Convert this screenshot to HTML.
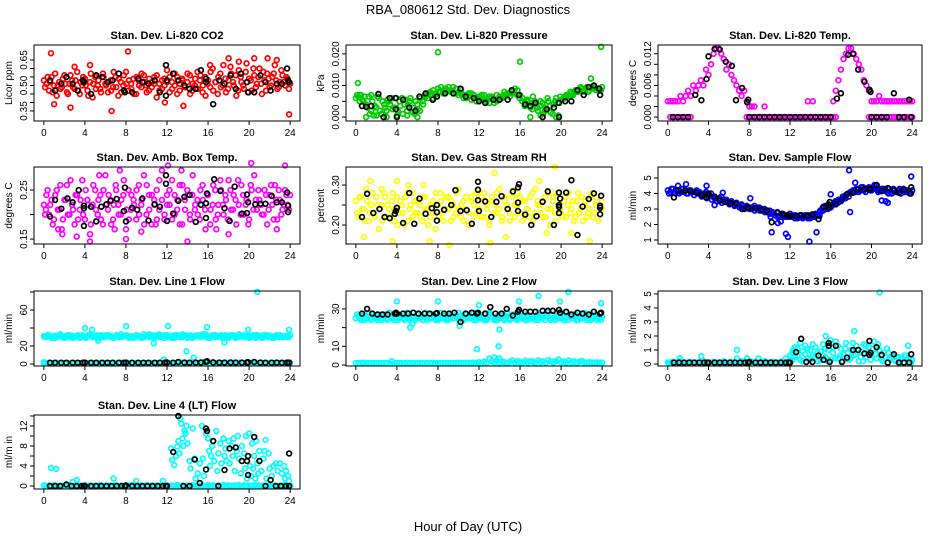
<!DOCTYPE html>
<html><head><meta charset="utf-8"><style>
html,body{margin:0;padding:0;background:#fff;}
svg{display:block;font-family:"Liberation Sans",sans-serif;}
</style></head><body>
<svg id="c" width="936" height="540" viewBox="0 0 936 540">
<text x="468" y="14" text-anchor="middle" font-size="13">RBA_080612  Std. Dev. Diagnostics</text>
<text x="468" y="531" text-anchor="middle" font-size="13">Hour of Day (UTC)</text>
</svg>
<script>
const xTicks=[0,4,8,12,16,20,24];
// ---- CO2 ----
const co2Red=[0.53,0.51,0.47,0.55,0.50,0.44,0.52,0.49,0.56,0.46,0.51,0.53,0.48,0.58,0.45,0.50,0.54,0.47,0.52,0.43,0.55,0.50,0.48,0.57,0.51,0.46,0.53,0.49,0.55,0.44,0.52,0.50,0.58,0.47,0.51,0.54,0.45,0.53,0.49,0.56,0.50,0.47,0.52,0.55,0.43,0.51,0.48,0.54,0.59,0.46,0.52,0.50,0.55,0.47,0.53,0.49,0.57,0.45,0.51,0.54,0.48,0.56,0.50,0.44,0.53,0.58,0.47,0.52,0.55,0.49,0.62,0.46,0.53,0.57,0.50,0.44,0.59,0.52,0.48,0.63,0.54,0.47,0.56,0.51,0.60,0.45,0.53,0.57,0.49,0.55,0.62,0.48,0.52,0.56,0.50,0.54,0.51];
const co2Red2=[0.49,0.55,0.52,0.46,0.57,0.50,0.48,0.54,0.51,0.45,0.56,0.49,0.53,0.47,0.52,0.55,0.50,0.44,0.57,0.51,0.48,0.53,0.46,0.55,0.50,0.52,0.47,0.58,0.49,0.54,0.46,0.56,0.51,0.53,0.48,0.45,0.55,0.50,0.57,0.52,0.46,0.54,0.49,0.51,0.56,0.47,0.53,0.50,0.52,0.55,0.48,0.57,0.45,0.51,0.54,0.49,0.52,0.56,0.47,0.50,0.58,0.53,0.46,0.55,0.51,0.49,0.60,0.52,0.45,0.57,0.50,0.54,0.48,0.61,0.52,0.56,0.47,0.55,0.50,0.58,0.46,0.53,0.60,0.49,0.55,0.51,0.58,0.47,0.54,0.50,0.57,0.53,0.49,0.59,0.52,0.55,0.48];
const co2OutX=[0.7,8.2,1.0,2.6,6.6,13.6,23.9,18.0,20.5,21.8,22.7,19.0,16.2,11.8,4.5,3.0];
const co2OutY=[0.69,0.70,0.39,0.37,0.35,0.38,0.33,0.66,0.66,0.66,0.65,0.64,0.62,0.40,0.62,0.61];
const co2BlkX=[0.6,1.1,1.7,2.2,2.8,3.3,3.8,3.9,4.6,5.1,5.7,6.2,6.7,7.3,7.8,7.9,8.6,9.2,9.6,10.2,10.8,11.3,11.9,11.9,12.0,12.6,13.1,13.7,14.2,14.8,15.3,15.8,15.8,16.5,17.1,17.6,18.2,18.7,19.2,19.8,19.9,20.5,21.1,21.6,22.1,22.7,23.2,23.7,23.8,23.9];
const co2BlkY=[0.53,0.47,0.51,0.55,0.51,0.47,0.53,0.52,0.45,0.56,0.55,0.52,0.53,0.57,0.47,0.46,0.46,0.54,0.52,0.51,0.53,0.46,0.62,0.44,0.53,0.57,0.53,0.50,0.48,0.48,0.59,0.54,0.52,0.39,0.53,0.51,0.56,0.48,0.57,0.52,0.46,0.46,0.56,0.52,0.47,0.51,0.51,0.60,0.53,0.52];
// ---- Pressure ----
const presGreen=[.006,.0065,.007,.005,.004,.0065,.002,.0005,.003,.006,.001,.004,.002,.005,.006,.003,.0005,.005,.006,.004,.002,.005,.003,.001,.004,.002,.005,.007,.006,.008,.006,.007,.009,.008,.0075,.009,.0085,.008,.0095,.0075,.007,.0085,.006,.007,.0065,.0075,.006,.005,.0065,.007,.0055,.006,.0045,.0065,.0055,.005,.0065,.006,.007,.0075,.0065,.008,.009,.0085,.007,.006,.0045,.005,.003,.0065,.004,.002,.005,.001,.003,.005,.0015,.004,.006,.0005,.0055,.006,.007,.0065,.0075,.0075,.008,.0085,.009,.008,.0095,.0085,.009,.0095,.009,.0085,.0095];
const presGreen2=[.007,.005,.0055,.0065,.003,.001,.005,.0035,.0065,.002,.005,.003,.0055,.004,.0025,.006,.002,.0035,.001,.0055,.004,.006,.0015,.005,.0025,.006,.004,.0065,.0075,.007,.0085,.0075,.008,.0095,.0085,.008,.0095,.0085,.0075,.009,.008,.0075,.007,.006,.0075,.0055,.007,.006,.0055,.006,.007,.005,.0065,.006,.0045,.007,.0055,.0065,.008,.007,.0075,.0085,.0075,.007,.006,.005,.0035,.0055,.0045,.0025,.005,.003,.0035,.0045,.002,.006,.0035,.001,.005,.0045,.0065,.0055,.0065,.007,.008,.007,.0085,.008,.0095,.0085,.009,.008,.0095,.009,.0085,.009,.0085];
const presOutX=[0.2,8.0,16.0,23.9,22.9,17.0,1.0,2.0,3.0,5.0,6.0,18.0,19.5,0.4,1.5];
const presOutY=[.0108,.0205,.0175,.0222,.0122,0,0,.0005,0,.0005,0,.0005,0,.007,.007];
const presBlkX=[0.6,1.0,1.5,2.2,2.7,3.3,3.9,3.9,4.0,4.6,5.2,5.8,6.2,6.8,7.5,7.9,8.7,9.5,10.2,10.7,11.5,12.0,12.6,13.4,14.0,14.8,15.2,15.9,16.5,17.0,17.5,18.2,18.6,19.3,19.8,19.8,20.4,21.0,21.6,22.2,22.7,23.2,23.7,23.8];
const presBlkY=[.0035,.0033,.0035,.0073,0,.006,.006,.0025,0,.0055,.003,.002,.0065,.0075,.0055,.0065,.0075,.0075,.009,.0065,.006,.005,.0045,.0055,.0055,.0055,.0085,.007,.004,.0035,.0045,0,.0025,.003,0,.0045,.005,.005,.0085,.007,.0095,.01,.009,.007];
// ---- Li-820 Temp ----
const tempMagA=[.003,.003,.003,.003,.003,.004,.003,.004,.005,.004,.006,.005,.006,.007,.006,.009,.008,.010,.012,.013,.013,.012,.011,.009,.010,.008,.007,.006,.005,.004,.005,.003,.002,.002,.002,0,0,0,.002,0,0,0,0,0,0,0,0,0,0,0,0,0,0,0,0,.003,0,.003,0,0,0,0,0,0,0,.003,.005,.007,.009,.011,.012,.013,.013,.012,.011,.010,.009,.007,.006,.005,.003,.003,.003,.004,.003,.003,.003,.003,.003,.003,.003,.003,.003,.003,.003,.003,.003];
const tempMagB=[null,0,0,0,0,0,0,0,0,0,null,null,null,null,null,null,null,null,null,null,null,null,null,null,null,null,null,null,null,null,null,0,0,0,0,0,0,0,0,0,0,0,0,0,0,0,0,0,0,0,0,0,0,0,0,0,0,0,0,0,0,0,0,0,0,0,0,null,null,null,null,null,null,null,null,null,null,null,null,0,0,0,0,0,0,0,0,0,0,0,0,0,0,0,0,0,0];
const tempBlkX=[0.5,1.0,1.5,2.0,2.7,3.3,3.8,4.0,4.6,5.1,5.7,6.3,6.7,7.3,7.8,7.9,8.0,8.5,9.0,9.5,10.0,10.5,11.0,11.5,12.0,12.5,13.0,13.5,14.0,14.5,15.0,15.5,16.0,16.6,17.0,17.7,18.2,18.7,19.3,19.8,19.9,20.0,20.5,21.0,21.5,22.2,22.7,23.2,23.7,23.9];
const tempBlkY=[0,0,0,0,.0042,.0032,.0072,.0115,.0129,.0128,.0105,.0097,.0032,.0055,.0028,.0033,0,0,0,0,0,0,0,0,0,0,0,0,0,0,0,0,0,.0035,.0045,.0118,.012,.009,.0067,.0052,.0048,0,0,0,0,.0045,0,0,.0033,0];
// ---- Amb box ----
const boxMag=[.22,.24,.20,.23,.19,.25,.21,.17,.23,.26,.20,.22,.18,.24,.21,.27,.19,.23,.16,.22,.25,.20,.24,.18,.28,.21,.23,.19,.26,.22,.20,.24,.17,.25,.21,.23,.19,.26,.22,.28,.20,.24,.18,.23,.25,.21,.29,.19,.24,.22,.27,.20,.23,.18,.26,.21,.24,.19,.28,.22,.20,.25,.23,.17,.24,.21,.26,.19,.22,.25,.20,.23,.27,.21,.24,.18,.22,.26,.20,.23,.19,.25,.28,.21,.23,.20,.25,.18,.24,.22,.26,.19,.23,.21,.25,.22,.24];
const boxMag2=[.20,.25,.22,.18,.24,.21,.26,.19,.23,.20,.27,.21,.24,.19,.23,.20,.25,.22,.18,.26,.21,.23,.19,.25,.22,.24,.18,.22,.25,.20,.23,.27,.21,.19,.24,.22,.25,.20,.23,.18,.26,.21,.24,.22,.19,.27,.23,.20,.22,.25,.19,.24,.21,.26,.18,.23,.25,.20,.24,.21,.23,.19,.26,.21,.24,.18,.22,.25,.20,.27,.22,.24,.19,.25,.21,.23,.27,.20,.24,.22,.18,.26,.21,.23,.25,.22,.20,.24,.21,.26,.19,.23,.25,.20,.22,.24,.21];
const boxOutX=[0.2,4.5,3.2,14,20.2,23.5,12.1,1.8,9.5,18,8,22.7,6.9,13.4,7.4,1.4,5.4,16.8,10.9];
const boxOutY=[.21,.145,.155,.145,.305,.30,.30,.16,.165,.16,.15,.17,.17,.29,.29,.17,.28,.17,.18];
const boxBlkX=[0.6,1.1,1.7,2.3,2.8,3.4,3.9,3.9,3.9,4.6,5.1,5.6,6.1,6.5,7.1,7.8,7.9,8.0,8.6,9.1,9.6,10.2,10.8,11.3,11.9,11.9,12.0,12.6,13.1,13.7,14.2,14.8,15.3,15.8,15.8,15.9,16.6,17.2,17.6,18.1,18.6,19.3,19.8,19.8,19.9,20.6,21.1,21.6,22.2,22.7,23.2,23.7,23.8,23.8];
const boxBlkY=[.196,.23,.212,.233,.225,.25,.213,.218,.177,.216,.186,.216,.221,.228,.232,.207,.255,.186,.214,.21,.233,.188,.221,.216,.263,.28,.187,.202,.228,.236,.24,.185,.22,.193,.223,.243,.272,.248,.213,.187,.257,.202,.203,.241,.225,.221,.222,.222,.238,.225,.225,.245,.218,.205];
// ---- Gas RH ----
const rhYel=[.26,.22,.27,.24,.29,.21,.25,.23,.27,.19,.25,.28,.22,.24,.26,.21,.27,.23,.25,.20,.28,.24,.22,.26,.23,.25,.21,.27,.24,.22,.26,.19,.25,.28,.23,.24,.27,.21,.25,.23,.29,.22,.26,.24,.20,.27,.25,.23,.26,.22,.28,.24,.21,.27,.25,.23,.29,.22,.26,.24,.21,.27,.25,.28,.23,.26,.22,.24,.27,.21,.29,.25,.23,.26,.22,.28,.24,.27,.21,.25,.23,.26,.22,.28,.24,.21,.26,.23,.27,.25,.22,.24,.28,.23,.26,.25,.24];
const rhYel2=[.23,.27,.24,.21,.26,.23,.28,.22,.25,.24,.21,.27,.25,.22,.28,.24,.20,.26,.23,.27,.21,.25,.28,.23,.26,.22,.27,.24,.20,.25,.23,.28,.22,.26,.21,.27,.24,.26,.22,.28,.24,.25,.21,.27,.23,.26,.22,.28,.24,.27,.22,.25,.20,.26,.23,.28,.24,.21,.27,.25,.23,.28,.22,.25,.27,.21,.26,.24,.22,.28,.23,.26,.25,.22,.27,.24,.20,.26,.23,.28,.24,.22,.27,.25,.23,.26,.22,.28,.24,.21,.26,.23,.27,.22,.25,.21,.26];
const rhOutX=[1.4,0.8,4.0,3.6,7.2,9.1,13.5,13.1,19.4,17.9,22.8,14.6,18.6,5.1,11.8,6.6,21.0,2.5];
const rhOutY=[.31,.17,.31,.16,.16,.15,.33,.155,.345,.31,.16,.17,.18,.30,.28,.30,.18,.29];
const rhBlkX=[0.6,1.1,1.7,2.3,2.8,3.3,3.8,3.9,4.0,4.6,5.2,5.7,6.2,6.8,7.4,7.9,7.9,7.9,8.6,9.3,9.7,10.2,10.8,11.3,11.9,11.9,11.9,12.0,12.6,13.2,13.7,14.2,14.8,15.3,15.8,15.8,15.8,15.9,16.5,17.1,17.6,18.2,18.7,19.3,19.8,19.8,19.8,19.9,19.8,20.5,21.0,21.6,22.1,22.7,23.2,23.8,23.8,23.8,23.9];
const rhBlkY=[.22,.278,.23,.24,.22,.217,.228,.235,.243,.205,.28,.203,.266,.228,.242,.232,.25,.211,.238,.25,.287,.235,.237,.203,.262,.288,.308,.235,.259,.22,.258,.272,.24,.284,.235,.256,.294,.302,.226,.2,.222,.258,.284,.2,.23,.245,.25,.266,.281,.281,.312,.175,.246,.265,.279,.227,.243,.248,.273];
// ---- Sample flow ----
const sfBlue=[4.2,4.1,4.3,4.0,4.2,4.1,4.3,4.2,4.0,4.2,4.1,4.1,4.0,4.0,3.9,4.1,3.8,4.0,3.8,3.7,3.6,3.8,3.5,3.6,3.4,3.5,3.3,3.4,3.2,3.3,3.1,3.2,3.1,3.0,3.2,3.0,3.1,2.9,3.0,2.8,2.9,2.7,2.6,2.8,2.5,2.7,2.6,2.5,2.7,2.5,2.6,2.4,2.6,2.5,2.6,2.4,2.6,2.5,2.7,2.6,2.8,2.9,3.0,3.2,3.1,3.3,3.4,3.6,3.5,3.7,3.9,3.8,4.1,4.2,4.3,4.1,4.4,4.2,4.3,4.4,4.2,4.3,4.5,4.2,4.3,4.2,4.1,4.3,4.0,4.2,4.1,4.3,4.2,4.1,4.2,4.0,4.2];
const sfBlue2=[4.0,4.3,4.1,4.2,4.0,4.3,4.1,4.0,4.2,4.1,3.9,4.2,4.1,3.8,4.0,3.7,3.9,3.6,3.7,3.5,3.7,3.4,3.6,3.5,3.3,3.4,3.2,3.3,3.1,3.2,3.0,3.1,3.0,3.1,2.9,3.1,2.9,3.0,2.8,2.9,2.7,2.8,2.6,2.5,2.6,2.7,2.5,2.6,2.5,2.6,2.4,2.5,2.6,2.4,2.5,2.6,2.4,2.6,2.5,2.7,2.9,3.1,3.2,3.0,3.2,3.3,3.5,3.4,3.6,3.8,3.7,4.0,4.1,4.2,4.1,4.3,4.2,4.4,4.1,4.3,4.2,4.4,4.3,4.1,4.2,4.3,4.2,4.0,4.1,4.3,4.1,4.2,4.0,4.3,4.1,4.1,4.0];
const sfOutX=[1,1.8,3.8,5.4,4.6,8.1,10.2,10.8,11.1,11.6,11.8,13.9,14.6,14.9,16,17.8,17.9,18.4,20.3,21.0,21.4,21.6,23.9,10.1];
const sfOutY=[4.5,4.6,4.5,4.05,3.25,3.7,1.5,2.1,2.2,1.4,1.2,0.9,1.5,2.55,3.95,5.5,2.8,4.7,4.55,3.55,3.5,3.4,5.1,2.5];
const sfBlkX=[0.6,1.1,1.7,2.2,2.8,3.3,3.8,3.9,4.0,4.6,5.1,5.7,6.2,6.7,7.3,7.9,7.9,8.6,9.2,9.7,10.2,10.8,11.3,11.8,12,12.6,13.1,13.7,14.2,14.8,15.3,15.8,15.8,15.9,16.5,17.1,17.6,18.2,18.7,19.3,19.8,19.9,20.5,21,21.6,22.2,22.7,23.2,23.8,23.9];
const sfBlkY=[3.75,4.2,4.2,4.15,4.05,3.9,3.75,3.95,4.0,3.8,3.55,3.45,3.35,3.35,3.0,3.05,3.1,3.05,2.95,2.9,2.15,2.75,2.65,2.6,2.55,2.55,2.6,2.55,2.65,2.35,3.15,3.1,3.3,3.45,3.3,3.6,3.95,4.05,4.25,4.3,4.25,4.3,4.55,4.15,4.35,4.2,4.05,4.25,4.0,4.4];
// ---- Line 1 ----
const l1High=[31,30,32,29,31,30,32,31,29,30,32,31,30,31,29,32,30,31,33,30,31,29,32,31,30,32,31,29,31,30,33,31,32,30,31,29,32,31,30,33,31,30,32,29,31,33,30,32,31,30,29,32,31,30,33,31,29,32,30,31,32,30,31,33,29,31,32,30,31,32,30,31,29,32,31,30,33,31,30,32,29,31,30,32,31,29,30,32,31,29,30,31,32,30,31,30,32];
const l1High2=[30,32,31,30,29,31,33,30,31,32,30,29,31,32,30,31,29,32,31,30,32,29,31,30,32,31,30,29,32,31,30,31,32,29,31,30,32,31,29,30,31,33,30,31,32,30,31,29,32,30,31,29,32,31,30,32,30,31,29,31,32,30,33,31,30,29,31,32,30,31,29,32,30,31,32,29,30,31,32,30,31,30,32,29,31,30,32,31,30,31,29,32,30,31,30,31,30];
const l1Low=[1,1,1.2,1,1,1.3,1,1.1,1,1,1.2,1,1,1.1,1,1,1.3,1,1,1.2,1,1,1.1,1,1,1.2,1,1.1,1,1,1.3,1,1,1.1,1,1,1.2,1,1,1.1,1,1,1.2,1,1,1.3,1,1,1.2,1,1.5,1,1.4,1.8,1,1.6,1.2,1,1.7,1.3,1,1.5,1.9,1.2,1,1.6,1.3,1,1.4,1.2,1,1.5,1.2,1,1.3,1,1.4,1.1,1,1.6,1.2,1,1.8,1.3,1,1.2,1.1,1,1.3,1,1.2,1,1.1,1,1.2,1,1];
const l1OutX=[4,4.7,5.3,8,10.7,12.1,13.9,14.6,15.9,17.6,19.9,20.8,23.9,11.7,0];
const l1OutY=[40,38,26,42,23,42,14,7,41,24,38,80,38,5,2];
const l1BlkX=[0.6,1.1,1.7,2.2,2.8,3.3,3.8,4.0,4.6,5.1,5.7,6.2,6.7,7.3,7.8,8.0,8.6,9.2,9.7,10.2,10.8,11.3,11.8,12.0,12.6,13.1,13.7,14.2,14.8,15.3,15.8,15.9,16.5,17.1,17.6,18.2,18.7,19.3,19.8,19.9,20.5,21.1,21.6,22.2,22.7,23.2,23.7,23.9];
const l1BlkY=[1.5,1.5,1.5,1.5,1.5,1.5,1.5,1.6,1.5,1.5,1.5,1.5,1.5,1.5,1.5,1.6,1.5,1.5,1.5,1.5,1.5,1.5,1.6,1.7,1.5,2.2,1.6,1.5,1.6,1.7,2.5,3,1.8,1.6,1.6,1.7,1.6,1.6,1.8,2,2.2,1.6,1.5,1.5,1.6,1.5,1.6,1.6];
// ---- Line 2 ----
const l2High=[25,26,24,27,25,28,24,26,25,27,24,26,25,28,26,24,27,25,26,24,28,25,26,24,27,25,26,28,24,25,27,26,24,28,25,26,24,27,25,26,28,25,24,27,26,25,28,24,26,25,27,24,28,26,25,24,27,26,25,28,24,26,27,25,28,26,24,27,25,26,28,24,25,27,26,28,24,25,26,27,25,24,28,26,25,27,24,26,25,28,24,26,25,27,24,25,26];
const l2High2=[27,25,26,24,26,25,27,25,24,26,25,27,24,26,25,27,24,26,25,27,25,24,26,25,27,26,24,25,27,25,26,24,25,26,27,24,25,26,25,27,24,26,25,27,25,26,24,27,25,26,24,25,27,26,24,26,25,27,24,26,25,27,25,24,26,25,27,24,26,25,24,27,26,25,24,26,25,27,24,25,26,27,25,24,26,25,27,24,26,25,27,25,24,26,27,25,24];
const l2Low=[1,1,1,1.2,1,1,1,1,1,1,1,1,1,1,2,1,1,1,1,1,1.2,1,1,1,1,1,1,1,1,1,1.2,1,1,1,1,1,1,1,1,1,1.2,1,1,1,1,1,1.3,1,1.5,1,1.8,1.2,3.5,2,1.4,2.5,1.2,1.8,1.4,1,1.6,2.4,1.2,2,1.5,1.3,2.2,1.4,2,1.6,1.3,2.4,1.5,2,1.3,2.6,1.8,1.4,2.2,3,1.5,1.8,1.2,2.4,1.4,2,1.3,1.6,2.2,1.4,1.2,1.5,1.3,1.2,1.4,1.2,1.3];
const l2OutX=[4,8,12,13,14,13.9,11.8,5.3,10.1,15.9,17.8,19.9,20.7,23.9,13.5,14,5.5];
const l2OutY=[34,34,32,28,19,10,8.5,20,21,34,37,34,39,33,4,3.5,22];
const l2BlkX=[0.6,1.1,1.6,2.1,2.6,3.1,3.8,3.9,4.0,4.6,5.1,5.6,6.1,6.7,7.2,7.8,7.9,8.6,9.1,9.6,10.2,10.7,11.3,11.8,11.9,12.6,13.1,13.6,14.2,14.7,15.3,15.8,15.9,16.5,17.0,17.5,18.2,18.7,19.2,19.8,19.9,20.5,21.0,21.6,22.1,22.7,23.2,23.8,23.9];
const l2BlkY=[27.5,30,27.5,27,27,27,27.5,28,27.5,27.5,27.5,28,27.5,27.5,27.5,27.5,27.8,27.5,27.5,28,23,27.5,28,27.5,28,27.5,31,27.5,27.5,30,26.5,28.5,29.5,28.5,28.5,28.5,29,29,29,29.5,28,28.5,27,28,27.5,27,28.5,27.5,28];
// ---- Line 3 ----
const l3Cyan=[0.1,0.1,0.15,0.1,0.1,0.2,0.1,0.1,0.1,0.15,0.1,0.1,0.1,0.1,0.2,0.1,0.1,0.1,0.15,0.1,0.1,0.1,0.2,0.1,0.1,0.15,0.1,0.1,0.1,0.2,0.1,0.1,0.1,0.15,0.1,0.1,0.1,0.1,0.2,0.1,0.1,0.15,0.1,0.1,0.1,0.2,0.1,0.1,0.3,0.8,0.5,1.1,0.3,0.9,1.3,0.4,1.0,0.6,1.2,0.2,0.9,1.4,0.5,1.0,0.3,1.2,1.6,0.4,1.1,0.7,1.5,0.3,1.0,0.6,1.3,0.2,0.9,1.4,0.5,1.2,0.7,1.6,0.4,1.0,0.3,0.8,1.1,0.4,0.6,0.3,0.5,0.2,0.4,0.6,0.3,0.2,0.3];
const l3Cloud=[0.1,0.1,0.1,0.1,0.1,0.1,0.1,0.1,0.1,0.1,0.1,0.1,0.1,0.1,0.1,0.1,0.1,0.1,0.1,0.1,0.1,0.1,0.1,0.1,0.1,0.1,0.1,0.1,0.1,0.1,0.1,0.1,0.1,0.1,0.1,0.1,0.1,0.1,0.1,0.1,0.1,0.1,0.1,0.1,0.1,0.1,0.1,0.1,0.6,0.3,1.2,0.6,1.5,0.2,0.7,1.1,0.3,1.4,0.5,0.8,0.3,0.6,1.1,0.2,1.7,0.8,0.4,1.3,0.6,0.2,1.1,0.8,0.4,1.5,0.7,1.0,0.5,0.2,1.3,0.8,0.3,1.1,0.7,1.4,0.6,0.2,0.5,0.8,0.3,0.6,0.2,0.5,0.3,0.1,0.6,0.4,0.1];
const l3OutX=[1.2,3.3,6.8,6.8,7.8,8.9,11.6,15.5,18.3,20.8,23.6,12.3];
const l3OutY=[0.4,0.55,1.0,0.4,0.4,0.4,0.4,2.0,2.35,5.1,1.3,1.0];
const l3BlkX=[0.6,1.1,1.6,2.1,2.6,3.1,3.6,3.9,4.0,4.6,5.1,5.6,6.1,6.6,7.1,7.6,7.9,8.0,8.6,9.1,9.6,10.1,10.6,11.1,11.6,11.9,12.0,12.6,13.1,13.6,14.2,14.8,15.3,15.8,15.8,15.9,16.5,17.1,17.6,18.2,18.7,19.3,19.8,19.9,19.8,20.5,21,21.6,22.2,22.7,23.2,23.7,23.9];
const l3BlkY=[0.1,0.1,0.1,0.1,0.1,0.1,0.1,0.1,0.1,0.1,0.1,0.1,0.1,0.1,0.1,0.1,0.1,0.15,0.1,0.1,0.1,0.1,0.1,0.1,0.1,0.1,0.1,0.85,1.8,0.15,0.15,0.6,0.3,1.3,1.5,0.15,1.3,0.15,0.45,1.0,1.0,0.75,0.65,0.8,1.65,1.2,0.65,0.1,0.7,0.1,0.1,0.1,0.7];
// ---- Line 4 ----
const l4Base=[0.1,0,0.1,0,0.2,0,0.1,0,0.1,0,0.2,0,0.1,0,0.1,0,0.2,0,0.1,0,0.1,0,0.2,0,0.1,0,0.1,0,0.2,0,0.1,0,0.1,0,0.2,0,0.1,0,0.1,0,0.2,0,0.1,0,0.1,0,0.2,0,0.1,0,0.1,0,0.2,0,0.1,0,0.1,0,0.2,0,0.1,0,0.1,0,0.2,0,0.1,0,0.1,0,0.2,0,0.1,0,0.1,0,0.2,0,0.1,0,0.1,0,0.2,0,0.1,0,0.1,0,0.2,0,0.1,0,0.1,0,0.2,0,0.1];
const l4CloudX=[12.4,12.5,12.7,12.9,13.0,13.1,13.2,13.3,13.4,13.5,13.6,13.7,13.8,13.9,14.0,14.2,14.3,14.5,14.7,14.8,15.0,15.2,15.4,15.5,15.6,15.8,16.0,16.1,16.2,16.3,16.4,16.5,16.6,16.8,16.9,17.0,17.2,17.3,17.5,17.6,17.7,17.8,18.0,18.1,18.3,18.4,18.5,18.6,18.8,18.9,19.0,19.2,19.3,19.5,19.6,19.7,19.8,20.0,20.1,20.2,20.3,20.4,20.5,20.6,20.7,20.8,20.9,21.0,21.2,21.4,21.5,21.6,21.7,21.9,22.0,22.2,22.4,22.6,22.8,23.0,23.2,23.4,23.5,23.6,23.8,23.9,0.7,1.2,3.2,6.8,9,11.6,2.8];
const l4CloudY=[7.5,5.2,4.2,6,7.9,9,6.5,13.5,12.5,9.5,8,11,10.5,12,8.5,5,3.5,11.5,5.5,1.5,2.5,4.5,12,5.5,2,10.5,9.5,7,4,6,8,9,5,11,3,6.5,8.5,4.5,9.5,6,7.5,5,9,4.5,8,6,9.5,3,7,10,5.5,2.5,8,6.5,3.5,10,1.5,10.5,4,2,8.5,3.5,6,1.5,9,4.5,2.5,7,3,5.5,7,9.2,1.5,6.5,3.5,2,4,4.5,3,4.5,2.5,4,1.5,3,2,1,3.6,3.4,1.2,1.5,1,1,0.8];
const l4BlkX=[0.6,1.1,1.6,2.2,2.7,3.2,3.7,3.9,4.0,4.6,5.1,5.6,6.1,6.6,7.1,7.6,7.9,8.0,8.6,9.1,9.6,10.1,10.6,11.1,11.6,11.9,12.0,12.6,13.1,13.6,14.2,14.7,15.2,15.8,15.8,15.9,16.5,17.0,17.6,18.1,18.7,19.3,19.8,19.9,19.9,20.5,21,21.6,22.1,22.6,23.1,23.6,23.9,23.9];
const l4BlkY=[0,0,0,0.3,0,0,0,0,0,0,0,0,0,0,0,0,0,0.1,0,0,0,0,0,0,0,0,0,6.8,14,0,0,5.3,0.6,3.3,11.5,11,9,0,3.2,7.5,7.7,5,5,6,2.2,9.8,5,0,1.2,0,0,0,6.5,0];

const SVGNS="http://www.w3.org/2000/svg";
const svg=document.getElementById('c');
function mk(tag,attrs,parent){const e=document.createElementNS(SVGNS,tag);for(const k in attrs)e.setAttribute(k,attrs[k]);(parent||svg).appendChild(e);return e;}
const colL=[34,346,658], colW=[266,266,264];
const rowT=[45,167,291,415], rowB=[121,244,366,489];
const idx=(arr)=>arr.map((_,i)=>i*24/(arr.length-1));
const idxOff=(arr)=>arr.map((_,i)=>0.12+i*23.76/(arr.length-1));

const panels=[
 {key:'co2',title:'Stan. Dev. Li-820 CO2',ylab:'Licor ppm',c:0,r:0,yMin:0.291,yMax:0.738,ticks:[.35,.40,.45,.50,.55,.60,.65],labels:['0.35','0.50','0.65'],labelAt:[.35,.50,.65],
  series:[{col:'#ff0000',x:idx(co2Red),y:co2Red},{col:'#ff0000',x:idxOff(co2Red2),y:co2Red2},{col:'#ff0000',x:co2OutX,y:co2OutY},{col:'#000',x:co2BlkX,y:co2BlkY}]},
 {key:'pressure',title:'Stan. Dev. Li-820 Pressure',ylab:'kPa',c:1,r:0,yMin:-.00123,yMax:.0228,ticks:[0,.005,.01,.015,.02],labels:['0.000','0.010','0.020'],labelAt:[0,.01,.02],
  series:[{col:'#00cc00',x:idx(presGreen),y:presGreen},{col:'#00cc00',x:idxOff(presGreen2),y:presGreen2},{col:'#00cc00',x:presOutX,y:presOutY},{col:'#000',x:presBlkX,y:presBlkY}]},
 {key:'li-temp',title:'Stan. Dev. Li-820 Temp.',ylab:'degrees C',c:2,r:0,yMin:-.00074,yMax:.01366,ticks:[0,.002,.004,.006,.008,.01,.012],labels:['0.000','0.006','0.012'],labelAt:[0,.006,.012],
  series:[{col:'#ff00ff',x:idx(tempMagA),y:tempMagA},{col:'#ff00ff',x:idx(tempMagB),y:tempMagB},{col:'#000',x:tempBlkX,y:tempBlkY}]},
 {key:'amb-box',title:'Stan. Dev. Amb. Box Temp.',ylab:'degrees C',c:0,r:1,yMin:.140,yMax:.297,ticks:[.15,.20,.25],labels:['0.15','0.25'],labelAt:[.15,.25],
  series:[{col:'#ff00ff',x:idx(boxMag),y:boxMag},{col:'#ff00ff',x:idxOff(boxMag2),y:boxMag2},{col:'#ff00ff',x:boxOutX,y:boxOutY},{col:'#000',x:boxBlkX,y:boxBlkY}]},
 {key:'gas-rh',title:'Stan. Dev. Gas Stream RH',ylab:'percent',c:1,r:1,yMin:.1525,yMax:.345,ticks:[.20,.25,.30],labels:['0.20','0.30'],labelAt:[.20,.30],
  series:[{col:'#ffff00',x:idx(rhYel),y:rhYel},{col:'#ffff00',x:idxOff(rhYel2),y:rhYel2},{col:'#ffff00',x:rhOutX,y:rhOutY},{col:'#000',x:rhBlkX,y:rhBlkY}]},
 {key:'sample-flow',title:'Stan. Dev. Sample Flow',ylab:'ml/min',c:2,r:1,yMin:.742,yMax:5.71,ticks:[1,2,3,4,5],labels:['1','2','3','4','5'],labelAt:[1,2,3,4,5],
  series:[{col:'#0000ff',x:idx(sfBlue),y:sfBlue},{col:'#0000ff',x:idxOff(sfBlue2),y:sfBlue2},{col:'#0000ff',x:sfOutX,y:sfOutY},{col:'#000',x:sfBlkX,y:sfBlkY}]},
 {key:'line1',title:'Stan. Dev. Line 1 Flow',ylab:'ml/min',c:0,r:2,yMin:-2.2,yMax:81.1,ticks:[0,20,40,60,80],labels:['0','20','60'],labelAt:[0,20,60],
  series:[{col:'#00ffff',x:idx(l1High),y:l1High},{col:'#00ffff',x:idxOff(l1High2),y:l1High2},{col:'#00ffff',x:idx(l1Low),y:l1Low},{col:'#00ffff',x:l1OutX,y:l1OutY},{col:'#000',x:l1BlkX,y:l1BlkY}]},
 {key:'line2',title:'Stan. Dev. Line 2 Flow',ylab:'ml/min',c:1,r:2,yMin:-.54,yMax:39.6,ticks:[0,10,20,30],labels:['0','10','30'],labelAt:[0,10,30],
  series:[{col:'#00ffff',x:idx(l2High),y:l2High},{col:'#00ffff',x:idxOff(l2High2),y:l2High2},{col:'#00ffff',x:idx(l2Low),y:l2Low},{col:'#00ffff',x:l2OutX,y:l2OutY},{col:'#000',x:l2BlkX,y:l2BlkY}]},
 {key:'line3',title:'Stan. Dev. Line 3 Flow',ylab:'ml/min',c:2,r:2,yMin:-.14,yMax:5.21,ticks:[0,1,2,3,4,5],labels:['0','1','2','3','4','5'],labelAt:[0,1,2,3,4,5],
  series:[{col:'#00ffff',x:idx(l3Cyan),y:l3Cyan},{col:'#00ffff',x:idxOff(l3Cloud),y:l3Cloud},{col:'#00ffff',x:l3OutX,y:l3OutY},{col:'#000',x:l3BlkX,y:l3BlkY}]},
 {key:'line4',title:'Stan. Dev. Line 4 (LT) Flow',ylab:'ml/m in',c:0,r:3,yMin:-.6,yMax:14.2,ticks:[0,2,4,6,8,10,12,14],labels:['0','4','8','12'],labelAt:[0,4,8,12],
  series:[{col:'#00ffff',x:idx(l4Base),y:l4Base},{col:'#00ffff',x:l4CloudX,y:l4CloudY},{col:'#000',x:l4BlkX,y:l4BlkY}]}
];

panels.forEach(p=>{
  const L=colL[p.c], W=colW[p.c], T=rowT[p.r], B=rowB[p.r];
  const xs=v=>L+W*(v+0.96)/25.92;
  const ys=v=>B-(B-T)*(v-p.yMin)/(p.yMax-p.yMin);
  const g=mk('g',{});
  
  
  const t=mk('text',{x:L+W/2,y:T-6,'text-anchor':'middle','font-size':'11','font-weight':'bold'},g);
  t.textContent=p.title;
  
  
  const marks=mk('g',{fill:'none','stroke-width':'1.7'},g);
  
  
  p.series.forEach(s=>{
    s.y.forEach((v,i)=>{
      if(v===null||v===undefined)return;
      const ci=mk('circle',{cx:xs(s.x[i]).toFixed(1),cy:ys(v).toFixed(1),r:'2.4',stroke:s.col},marks);
      
      
    });
  });
  const box=mk('rect',{x:L,y:T,width:W,height:B-T,fill:'none',stroke:'#000','stroke-width':'1'},g);
  
  
  const xa=mk('g',{},g);
  
  
  xTicks.forEach(v=>{
    const X=xs(v);
    mk('line',{x1:X,x2:X,y1:B,y2:B+4,stroke:'#000'},xa);
    const tl=mk('text',{x:X,y:B+15,'text-anchor':'middle','font-size':'10'},xa);
    tl.textContent=String(v);
  });
  const ya=mk('g',{},g);
  
  
  p.ticks.forEach(v=>{const Y=ys(v);mk('line',{x1:L-4,x2:L,y1:Y,y2:Y,stroke:'#000'},ya);});
  p.labelAt.forEach((v,i)=>{
    const Y=ys(v);
    const tl=mk('text',{x:L-7,y:Y,'text-anchor':'middle','font-size':'10',transform:`rotate(-90 ${L-7} ${Y})`},ya);
    tl.textContent=p.labels[i];
  });
  const yl=mk('text',{x:L-22,y:(T+B)/2,'text-anchor':'middle','font-size':'10',transform:`rotate(-90 ${L-22} ${(T+B)/2})`},g);
  yl.textContent=p.ylab;
  
  
});
</script>
</body></html>
